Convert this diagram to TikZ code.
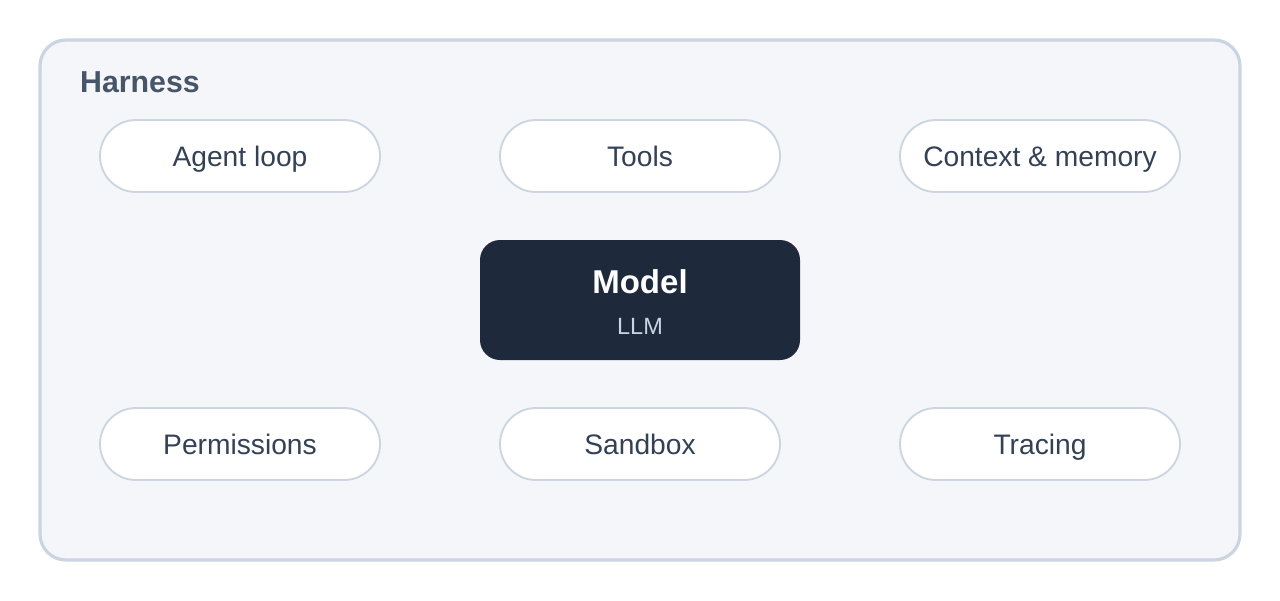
\documentclass[tikz,border=0pt]{standalone}
\usepackage{fontspec}
\setmainfont{Liberation Sans}
\definecolor{outerfill}{HTML}{F4F6FA}
\definecolor{outerline}{HTML}{CBD5E1}
\definecolor{pilltext}{HTML}{334155}
\definecolor{harnesstext}{HTML}{475569}
\definecolor{modelfill}{HTML}{1E293B}
\definecolor{llmtext}{HTML}{CBD5E1}
\tikzset{
  pill/.style={draw=outerline, line width=1.8pt, fill=white, rounded corners=36pt,
    minimum width=280pt, minimum height=72pt, inner sep=0pt,
    text=pilltext, font=\fontsize{28.2}{32}\selectfont, text height=20pt, text depth=0pt},
}
\begin{document}
\begin{tikzpicture}[x=1pt,y=-1pt]
\useasboundingbox (0,0) rectangle (1280,600);
\fill[white] (0,0) rectangle (1280,600);
\node[draw=outerline, line width=3.2pt, fill=outerfill, rounded corners=26pt,
  minimum width=1200pt, minimum height=520pt, inner sep=0pt] (harness) at (640,300) {};
\node[anchor=base west, inner sep=0pt, text=harnesstext, font=\fontsize{30.3}{34}\selectfont\bfseries] (harnesslabel) at (80,92) {Harness};
\node[pill] (agent) at (240,156) {Agent loop};
\node[pill] (tools) at (640,156) {Tools};
\node[pill] (context) at (1040,156) {Context \& memory};
\node[pill] (perm) at (240,444) {Permissions};
\node[pill] (sandbox) at (640,444) {Sandbox};
\node[pill] (tracing) at (1040,444) {Tracing};
\node[fill=modelfill, rounded corners=20pt, minimum width=320pt, minimum height=120pt, inner sep=0pt] (model) at (640,300) {};
\node[anchor=base, inner sep=0pt, text=white, font=\fontsize{33}{38}\selectfont\bfseries] (modeltitle) at (640,293) {Model};
\node[anchor=base, inner sep=0pt, text=llmtext, font=\fontsize{23.5}{27}\selectfont] (llm) at (640,334) {LLM};
\end{tikzpicture}
\end{document}
